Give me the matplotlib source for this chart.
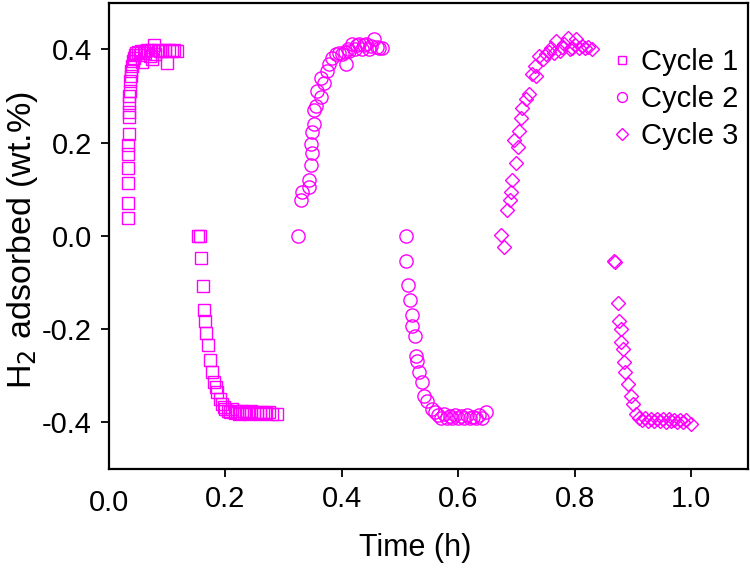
import matplotlib
matplotlib.use("Agg")
import matplotlib.pyplot as plt

plt.rcParams['font.family'] = ['Liberation Sans', 'DejaVu Sans']
plt.rcParams['axes.unicode_minus'] = False

# Cycle 1 (squares)
c1_x = [0.033, 0.033, 0.033, 0.033, 0.033, 0.033, 0.034, 0.034, 0.034, 0.035,
        0.035, 0.036, 0.037, 0.038, 0.039, 0.040, 0.041, 0.043, 0.045, 0.047,
        0.050, 0.053, 0.056, 0.057, 0.060, 0.063, 0.066, 0.070, 0.073, 0.074,
        0.077, 0.080, 0.084, 0.088, 0.092, 0.096, 0.100, 0.104, 0.108, 0.112,
        0.117,
        0.154, 0.156, 0.158, 0.162, 0.163, 0.165, 0.167, 0.170, 0.174, 0.177,
        0.181, 0.184, 0.186, 0.191, 0.194, 0.198, 0.200, 0.204, 0.208, 0.212,
        0.216, 0.220, 0.224, 0.228, 0.232, 0.236, 0.240, 0.245, 0.250, 0.255,
        0.260, 0.265, 0.270, 0.275, 0.280, 0.289]
c1_y = [0.038, 0.070, 0.113, 0.145, 0.175, 0.194, 0.218, 0.254, 0.265, 0.286,
        0.300, 0.310, 0.333, 0.343, 0.354, 0.365, 0.375, 0.382, 0.388, 0.392,
        0.395, 0.388, 0.396, 0.372, 0.397, 0.392, 0.398, 0.385, 0.399, 0.380,
        0.410, 0.390, 0.398, 0.397, 0.396, 0.398, 0.370, 0.398, 0.397, 0.398,
        0.397,
        0.000, 0.000, -0.047, -0.107, -0.160, -0.183, -0.209, -0.235, -0.266, -0.292,
        -0.314, -0.324, -0.335, -0.350, -0.360, -0.368, -0.372, -0.376, -0.378, -0.372,
        -0.380, -0.376, -0.382, -0.375, -0.380, -0.378, -0.383, -0.377, -0.381, -0.378,
        -0.382, -0.379, -0.381, -0.378, -0.382, -0.382]

# Cycle 2 (circles)
c2_x = [0.325, 0.330, 0.332, 0.344, 0.344, 0.347, 0.349, 0.347, 0.349, 0.353,
        0.353, 0.356, 0.358, 0.365, 0.365, 0.370, 0.375, 0.378, 0.384, 0.390,
        0.396, 0.401, 0.405, 0.407, 0.410, 0.413, 0.418, 0.422, 0.426, 0.430,
        0.434, 0.438, 0.442, 0.446, 0.450, 0.456, 0.460, 0.464, 0.469,
        0.511, 0.511, 0.514, 0.518, 0.520, 0.521, 0.525, 0.527, 0.529, 0.533,
        0.538, 0.542, 0.547, 0.555, 0.560, 0.565, 0.570, 0.575, 0.580, 0.585,
        0.590, 0.595, 0.600, 0.605, 0.610, 0.615, 0.620, 0.625, 0.630, 0.635,
        0.640, 0.647]
c2_y = [0.000, 0.077, 0.094, 0.105, 0.119, 0.151, 0.177, 0.198, 0.222, 0.241,
        0.269, 0.279, 0.311, 0.297, 0.339, 0.329, 0.354, 0.369, 0.382, 0.390,
        0.392, 0.390, 0.395, 0.369, 0.400, 0.397, 0.412, 0.400, 0.410, 0.412,
        0.402, 0.410, 0.412, 0.400, 0.408, 0.422, 0.405, 0.403, 0.403,
        0.000, -0.055, -0.105, -0.137, -0.169, -0.194, -0.216, -0.258, -0.269, -0.292,
        -0.314, -0.343, -0.354, -0.371, -0.378, -0.385, -0.390, -0.382, -0.392, -0.386,
        -0.392, -0.385, -0.391, -0.386, -0.392, -0.384, -0.391, -0.388, -0.392, -0.385,
        -0.390, -0.378]

# Cycle 3 (diamonds)
c3_x = [0.674, 0.679, 0.683, 0.688, 0.691, 0.693, 0.700, 0.702, 0.696, 0.705,
        0.708, 0.710, 0.717, 0.722, 0.726, 0.734, 0.731, 0.739, 0.745, 0.751,
        0.755, 0.760, 0.764, 0.768, 0.774, 0.778, 0.782, 0.788, 0.792, 0.796,
        0.800, 0.803, 0.808, 0.812, 0.817, 0.822, 0.829,
        0.868, 0.869, 0.874, 0.876, 0.880, 0.879, 0.883, 0.884, 0.887, 0.891,
        0.896, 0.900, 0.906, 0.911, 0.916, 0.921, 0.926, 0.931, 0.936, 0.941,
        0.946, 0.951, 0.956, 0.961, 0.966, 0.971, 0.976, 0.981, 0.986, 0.991,
        1.000]
c3_y = [0.002, -0.023, 0.055, 0.077, 0.094, 0.119, 0.156, 0.190, 0.205, 0.226,
        0.252, 0.275, 0.294, 0.305, 0.348, 0.343, 0.365, 0.386, 0.380, 0.390,
        0.395, 0.403, 0.392, 0.418, 0.397, 0.405, 0.412, 0.425, 0.400, 0.403,
        0.410, 0.422, 0.403, 0.408, 0.403, 0.405, 0.401,
        -0.055, -0.057, -0.145, -0.183, -0.200, -0.228, -0.243, -0.271, -0.292, -0.318,
        -0.343, -0.360, -0.382, -0.392, -0.395, -0.392, -0.398, -0.393, -0.398, -0.394,
        -0.398, -0.393, -0.399, -0.394, -0.398, -0.395, -0.399, -0.395, -0.400, -0.396,
        -0.403]

x_ticks = [0.0, 0.2, 0.4, 0.6, 0.8, 1.0]
y_ticks = [-0.4, -0.2, 0.0, 0.2, 0.4]

color = '#ff00ff'

fig = plt.figure(figsize=(7.5, 5.71), dpi=100)
ax = fig.add_axes([0.145, 0.179, 0.852, 0.816])

ax.plot(c1_x, c1_y, 's', ms=8, mfc='none', mec=color, mew=1.0, label='Cycle 1')
ax.plot(c2_x, c2_y, 'o', ms=9.5, mfc='none', mec=color, mew=1.0, label='Cycle 2')
ax.plot(c3_x, c3_y, 'D', ms=7.5, mfc='none', mec=color, mew=1.0, label='Cycle 3')

ax.set_xlim(0.0, 1.097)
ax.set_ylim(-0.5, 0.5)
ax.set_xticks(x_ticks[1:])
ax.set_xticklabels(['%.1f' % t for t in x_ticks[1:]])
ax.set_yticks(y_ticks)
ax.set_yticklabels(['%.1f' % t for t in y_ticks])
# 0.0 on the x axis sits on the frame corner, label only
ax.text(0.0, -0.543, '0.0', ha='center', va='top', fontsize=21)

ax.tick_params(direction='out', length=6, width=1.3, labelsize=21, pad=6)
for s in ax.spines.values():
    s.set_linewidth(1.6)

ax.set_xlabel('Time (h)', fontsize=22)
ax.xaxis.set_label_coords(0.48, -0.138)
ax.set_ylabel('H$_2$ adsorbed (wt.%)', fontsize=24.5)
ax.yaxis.set_label_coords(-0.108, 0.49)

leg = ax.legend(loc='upper right', bbox_to_anchor=(1.012, 0.94), frameon=False,
                fontsize=21, markerscale=0.75, handlelength=0.6,
                handletextpad=0.35, labelspacing=0.3, borderaxespad=0.2)

fig.savefig('out.png', dpi=100)
